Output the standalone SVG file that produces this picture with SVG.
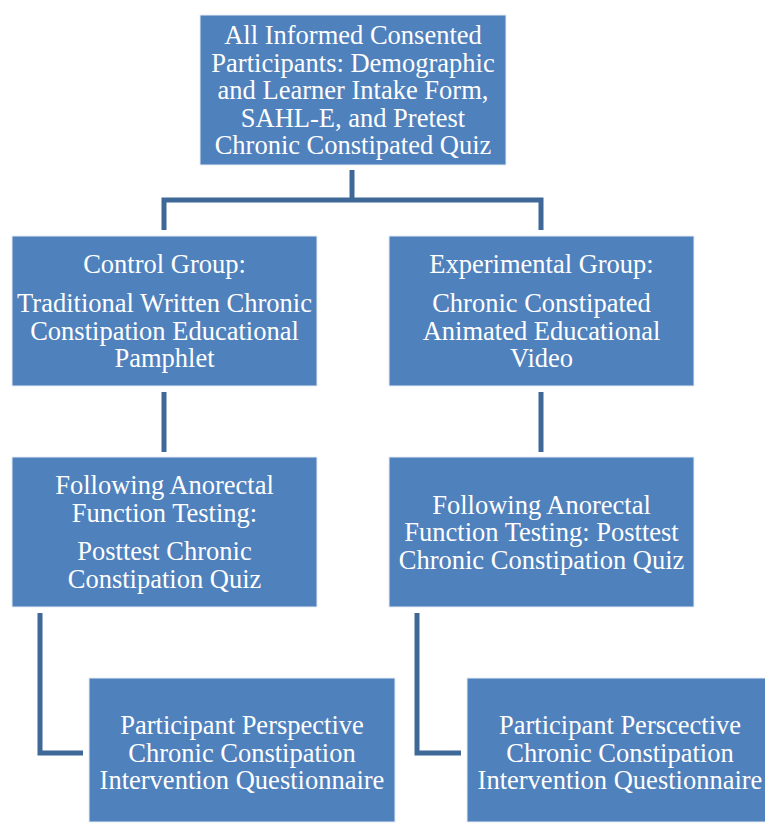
<svg xmlns="http://www.w3.org/2000/svg" width="765" height="823" viewBox="0 0 765 823">
<style>
.box{fill:#4f81bd;stroke:#e6edf5;stroke-width:1}
.t{font-family:"Liberation Serif","Times New Roman",serif;font-size:26.5px;fill:#ffffff;text-anchor:middle}
.c{fill:none;stroke:#3e6898;stroke-width:5;stroke-linejoin:miter}
</style>
<rect width="765" height="823" fill="#ffffff"/>
<g id="connectors">
<path class="c" d="M352,170 V200 M164,230 V200 H541 V230"/>
<path class="c" d="M164,392 V452"/>
<path class="c" d="M541,392 V452"/>
<path class="c" d="M40,613 V753 H83"/>
<path class="c" d="M417,613 V753 H461"/>
</g>
<g id="top">
<rect class="box" x="200" y="15" width="306" height="150"/>
<text class="t" x="353" y="44">All Informed Consented</text>
<text class="t" x="353" y="71.5">Participants: Demographic</text>
<text class="t" x="353" y="99">and Learner Intake Form,</text>
<text class="t" x="353" y="126.5">SAHL-E, and Pretest</text>
<text class="t" x="353" y="154">Chronic Constipated Quiz</text>
</g>
<g id="control">
<rect class="box" x="12" y="236" width="305" height="150"/>
<text class="t" x="164.5" y="273">Control Group:</text>
<text class="t" x="164.5" y="312">Traditional Written Chronic</text>
<text class="t" x="164.5" y="339.5">Constipation Educational</text>
<text class="t" x="164.5" y="367">Pamphlet</text>
</g>
<g id="experimental">
<rect class="box" x="389" y="236" width="305" height="150"/>
<text class="t" x="541.5" y="273">Experimental Group:</text>
<text class="t" x="541.5" y="312">Chronic Constipated</text>
<text class="t" x="541.5" y="339.5">Animated Educational</text>
<text class="t" x="541.5" y="367">Video</text>
</g>
<g id="control-post">
<rect class="box" x="12" y="457" width="305" height="150"/>
<text class="t" x="164.5" y="494">Following Anorectal</text>
<text class="t" x="164.5" y="521.5">Function Testing:</text>
<text class="t" x="164.5" y="560">Posttest Chronic</text>
<text class="t" x="164.5" y="587.5">Constipation Quiz</text>
</g>
<g id="experimental-post">
<rect class="box" x="389" y="457" width="305" height="150"/>
<text class="t" x="541.5" y="513.5">Following Anorectal</text>
<text class="t" x="541.5" y="541">Function Testing: Posttest</text>
<text class="t" x="541.5" y="568.5">Chronic Constipation Quiz</text>
</g>
<g id="control-questionnaire">
<rect class="box" x="89" y="678" width="306" height="144"/>
<text class="t" x="242" y="734">Participant Perspective</text>
<text class="t" x="242" y="761.5">Chronic Constipation</text>
<text class="t" x="242" y="789">Intervention Questionnaire</text>
</g>
<g id="experimental-questionnaire">
<rect class="box" x="467" y="678" width="306" height="144"/>
<text class="t" x="620" y="734">Participant Perscective</text>
<text class="t" x="620" y="761.5">Chronic Constipation</text>
<text class="t" x="620" y="789">Intervention Questionnaire</text>
</g>
</svg>
